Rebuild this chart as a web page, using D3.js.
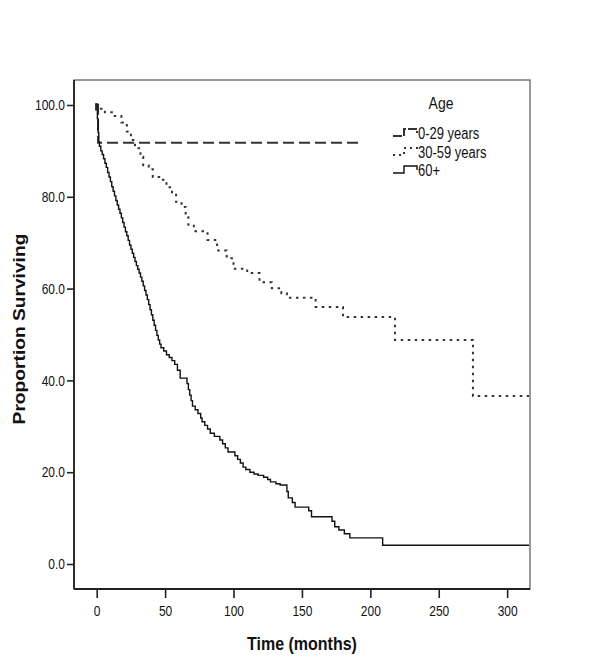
<!DOCTYPE html>
<html>
<head>
<meta charset="utf-8">
<script src="https://cdn.jsdelivr.net/npm/d3@7"></script>
<style>
  body { margin: 0; background: #fff; }
  text { font-family: Arial, "Liberation Sans", sans-serif; fill: #111; }
</style>
</head>
<body>
<svg id="chart"></svg>
<script>
// survival estimates (months, % surviving)
var groups = ["0-29 years", "30-59 years", "60+"];

var t0 = [0, 1, 192.5];
var s0 = [100, 91.8, 91.8];

var t30 = [0, 1, 6, 12, 18, 22, 25, 28, 32, 34, 38, 41, 47, 51, 55, 58, 62, 65, 67, 71, 81, 88,
  95, 100, 110, 119, 128, 135, 139, 160, 180, 218, 275, 316];
var s30 = [100, 99.2, 98.4, 97.6, 96.2, 94.2, 92.4, 90.6, 88.7, 86.9, 86.0, 84.3, 83.7, 82.1,
  81.0, 78.9, 77.8, 76.0, 73.9, 72.5, 70.6, 68.3, 66.6, 64.3, 63.4, 61.4, 60.1, 59.0, 58.0,
  56.0, 53.8, 48.8, 36.6, 36.6];

var t60 = [0, 0.5, 1, 1.5, 2, 3, 4, 5, 6, 7, 8, 9, 10, 11, 12, 13, 14, 15, 16, 17, 18, 19, 20,
  21, 22, 23, 24, 25, 26, 27, 28, 29, 30, 31, 32, 33, 34, 35, 36, 37, 38, 39, 40, 41, 42, 43,
  44, 45, 46, 47, 49, 51, 53, 55, 57, 59, 61, 66, 67, 68, 69, 70, 72, 74, 76, 77, 79, 81, 83,
  86, 90, 92, 94, 96, 101, 103, 105, 107, 109, 112, 115, 118, 122, 125, 127, 131, 134, 139,
  140, 143, 145, 155, 157, 172, 174, 177, 181, 185, 209, 316];
var s60 = [100, 97, 94, 92, 91, 90, 89.2, 88.3, 87.3, 86.4, 85.3, 84.3, 83.3, 82.2, 81.2, 80.2,
  79.2, 78.2, 77.3, 76.4, 75.4, 74.4, 73.4, 72.4, 71.5, 70.5, 69.5, 68.6, 67.7, 66.8, 65.9,
  65.0, 64.2, 63.4, 62.5, 61.6, 60.6, 59.6, 58.6, 57.6, 56.5, 55.4, 54.3, 53.1, 52.0, 50.9,
  49.8, 48.8, 47.9, 47.1, 46.4, 45.6, 45.0, 44.3, 43.5, 42.2, 40.5, 39.3, 38.0, 36.8, 35.6,
  34.4, 33.6, 32.8, 31.8, 31.0, 30.2, 29.4, 28.5, 27.8, 27.0, 26.2, 25.3, 24.4, 23.6, 22.8,
  22.0, 21.1, 20.6, 20.0, 19.6, 19.3, 18.9, 18.4, 17.9, 17.5, 17.2, 15.8, 14.4, 13.4, 12.4,
  11.6, 10.3, 9.3, 8.1, 7.4, 6.6, 5.7, 4.1, 4.1];

var yTicks = [0, 20, 40, 60, 80, 100];
var xTicks = [0, 50, 100, 150, 200, 250, 300];

var width = 600, height = 659;
var stretch = 1.2; // the picture's text is drawn a bit taller than wide

var svg = d3.select("#chart").attr("width", width).attr("height", height);

var x = d3.scaleLinear().domain([-16.6, 316.7]).range([74, 530]);
var y = d3.scaleLinear().domain([0, 100]).range([564, 105]);

var styles = [
  { dash: "11,5", w: 2, c: "#333" },
  { dash: "2.5,4.5", w: 2, c: "#333" },
  { dash: null, w: 1.4, c: "#111" }
];

var series = [
  d3.zip(t0, s0),
  d3.zip(t30, s30),
  d3.zip(t60, s60)
];

// frame
svg.append("rect")
  .attr("x", 74).attr("y", 80)
  .attr("width", 456).attr("height", 509)
  .attr("fill", "none").attr("stroke", "#555").attr("stroke-width", 1.2);

var line = d3.line()
  .x(d => x(d[0]))
  .y(d => y(d[1]))
  .curve(d3.curveStepAfter);

svg.append("g").selectAll("path")
  .data(series)
  .enter().append("path")
  .attr("d", line)
  .attr("fill", "none")
  .attr("stroke", (d, i) => styles[i].c)
  .attr("stroke-width", (d, i) => styles[i].w)
  .attr("stroke-dasharray", (d, i) => styles[i].dash);

// overlapping censor marks at the start
svg.append("line")
  .attr("x1", x(0)).attr("x2", x(0))
  .attr("y1", y(100.4)).attr("y2", y(98.8))
  .attr("stroke", "#222").attr("stroke-width", 3.2);

// axes
var yAxis = svg.append("g")
  .attr("transform", "translate(74,0)")
  .call(d3.axisLeft(y).tickValues(yTicks).tickFormat(d3.format(".1f")).tickSize(7).tickPadding(2));

var xAxis = svg.append("g")
  .attr("transform", "translate(0,589)")
  .call(d3.axisBottom(x).tickValues(xTicks).tickSize(9).tickPadding(5));

[yAxis, xAxis].forEach(a => {
  a.select(".domain").remove();
  a.selectAll("line").attr("stroke", "#222").attr("stroke-width", 1.6);
  a.selectAll("text")
    .attr("font-size", 12)
    .attr("font-family", "Arial, 'Liberation Sans', sans-serif")
    .attr("fill", "#111")
    .attr("transform", "scale(1," + stretch + ")");
});

// left and bottom axis lines
svg.append("line").attr("x1", 74).attr("x2", 74).attr("y1", 80).attr("y2", 589)
  .attr("stroke", "#222").attr("stroke-width", 1.8);
svg.append("line").attr("x1", 74).attr("x2", 530).attr("y1", 589).attr("y2", 589)
  .attr("stroke", "#222").attr("stroke-width", 1.8);

// titles
svg.append("text")
  .attr("transform", "translate(302,650) scale(1," + stretch + ")")
  .attr("text-anchor", "middle")
  .attr("font-weight", "bold")
  .attr("font-size", 16)
  .text("Time (months)");

svg.append("text")
  .attr("transform", "translate(25,329) scale(1," + stretch + ") rotate(-90)")
  .attr("text-anchor", "middle")
  .attr("font-weight", "bold")
  .attr("font-size", 16)
  .text("Proportion Surviving");

// legend
var lg = svg.append("g").attr("transform", "translate(393,0)");
lg.append("text")
  .attr("transform", "translate(48,109) scale(1," + stretch + ")")
  .attr("text-anchor", "middle")
  .attr("font-size", 14)
  .text("Age");

var legY = [136, 155, 173];
var item = lg.selectAll(".item")
  .data(groups)
  .enter().append("g")
  .attr("class", "item")
  .attr("transform", (d, i) => "translate(0," + legY[i] + ")");

item.append("path")
  .attr("d", "M0,0H11V-7H24V-3")
  .attr("fill", "none")
  .attr("stroke", (d, i) => styles[i].c)
  .attr("stroke-width", (d, i) => styles[i].w)
  .attr("stroke-dasharray", (d, i) => styles[i].dash ? (i === 0 ? "9,2" : "2,4") : null);

item.append("text")
  .attr("transform", "translate(25,3) scale(1," + stretch + ")")
  .attr("font-size", 13)
  .text(d => d);
</script>
</body>
</html>
